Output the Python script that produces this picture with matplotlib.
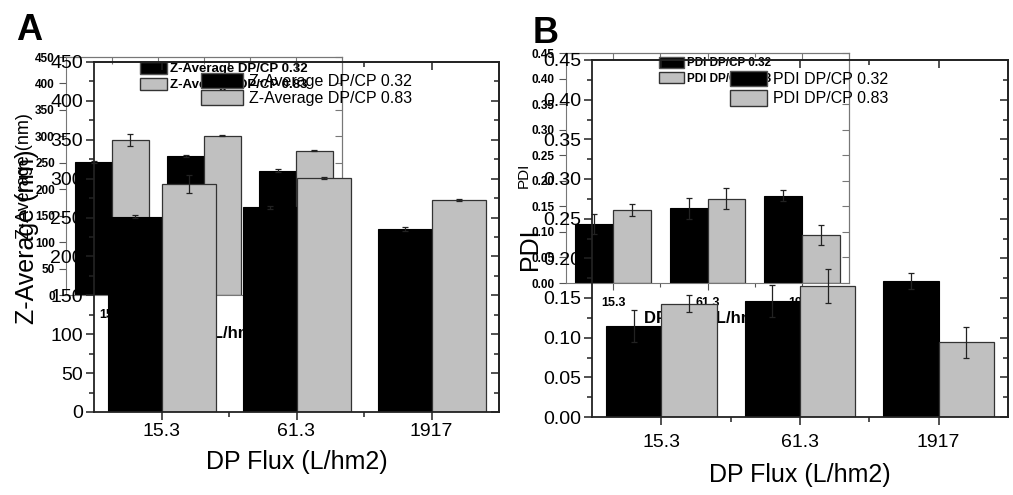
import matplotlib
matplotlib.use("Agg")
import matplotlib.pyplot as plt
import numpy as np
from matplotlib.patches import Patch
from matplotlib.ticker import MultipleLocator, FixedLocator, FormatStrFormatter

plt.rcParams['font.family'] = ['Liberation Sans', 'DejaVu Sans']

# data
flux_labels = ['15.3', '61.3', '1917']
z_low = [251, 263, 235]          # Z-Average DP/CP 0.32
z_low_err = [2, 2, 2.5]
z_high = [293, 301, 273]         # Z-Average DP/CP 0.83
z_high_err = [12, 1, 1.5]
pdi_low = [0.115, 0.146, 0.171]  # PDI DP/CP 0.32
pdi_low_err = [0.02, 0.02, 0.01]
pdi_high = [0.143, 0.165, 0.094] # PDI DP/CP 0.83
pdi_high_err = [0.011, 0.021, 0.02]

W, H = 1013, 495
fig = plt.figure(figsize=(W / 100, H / 100), dpi=100)


def box(l, t, r, b):
    return [l / W, 1 - b / H, (r - l) / W, (b - t) / H]


def bars(ax, low, low_err, high, high_err, cap):
    x = np.arange(len(flux_labels))
    ekw = dict(ecolor='#222222', elinewidth=0.9, capthick=0.9, capsize=cap)
    ax.bar(x - 0.2, low, 0.4, yerr=low_err, color='black', edgecolor='black',
           linewidth=0.8, error_kw=ekw)
    ax.bar(x + 0.2, high, 0.4, yerr=high_err, color='#c0c0c0', edgecolor='#333333',
           linewidth=0.9, error_kw=ekw)
    ax.set_xlim(-0.5, 2.5)
    ax.set_xticks(x)
    ax.set_xticklabels(flux_labels)
    ax.xaxis.set_minor_locator(FixedLocator([0.5, 1.5]))


def mirror(ax, ymaj, ymin, color, lw, length):
    top = ax.secondary_xaxis('top')
    top.set_xticks([0, 1, 2])
    top.xaxis.set_minor_locator(FixedLocator([0.5, 1.5]))
    top.tick_params(which='both', direction='in', labeltop=False, color=color, width=lw)
    top.tick_params(which='major', length=length)
    top.tick_params(which='minor', length=length * 0.6)
    top.spines['top'].set_color(color)
    top.spines['top'].set_linewidth(lw)
    right = ax.secondary_yaxis('right')
    right.yaxis.set_major_locator(MultipleLocator(ymaj))
    right.yaxis.set_minor_locator(MultipleLocator(ymin))
    right.tick_params(which='both', direction='in', labelright=False, color=color, width=lw)
    right.tick_params(which='major', length=length)
    right.tick_params(which='minor', length=length * 0.6)
    right.spines['right'].set_color(color)
    right.spines['right'].set_linewidth(lw)


def style_main(ax, ymaj, ymin):
    ax.set_facecolor('none')
    for s in ax.spines.values():
        s.set_color('#222222')
        s.set_linewidth(1.3)
    ax.yaxis.set_major_locator(MultipleLocator(ymaj))
    ax.yaxis.set_minor_locator(MultipleLocator(ymin))
    ax.tick_params(which='both', direction='out', color='#222222', width=1.1)
    ax.tick_params(which='major', length=6, labelsize=14, pad=2)
    ax.tick_params(which='minor', length=3.5)
    mirror(ax, ymaj, ymin, '#222222', 1.1, 6)


def style_small(ax, ymaj):
    ax.set_facecolor('none')
    for s in ax.spines.values():
        s.set_color('#777777')
        s.set_linewidth(0.8)
    ax.yaxis.set_major_locator(MultipleLocator(ymaj))
    ax.tick_params(which='both', direction='out', color='#555555', width=0.8)
    ax.tick_params(which='major', length=5, labelsize=8.5, pad=3)
    ax.tick_params(which='minor', length=3)
    mirror(ax, ymaj, ymaj, '#777777', 0.8, 5)


def legend(ax, labels, anchor, size, bold, hl, hh, pad, sp):
    handles = [Patch(facecolor='black', edgecolor='#555555', linewidth=1),
               Patch(facecolor='#c0c0c0', edgecolor='#333333', linewidth=1)]
    ax.legend(handles, labels, loc='upper left', bbox_to_anchor=anchor,
              bbox_transform=fig.transFigure, frameon=False, borderpad=0,
              borderaxespad=0, handlelength=hl, handleheight=hh, handletextpad=pad,
              labelspacing=sp, prop=dict(size=size, weight='bold' if bold else 'normal'))


# ---------------- panel A ----------------
axA2 = fig.add_axes(box(66, 57, 342, 295))
bars(axA2, z_low, z_low_err, z_high, z_high_err, 2)
axA2.set_ylim(0, 450)
style_small(axA2, 50)
axA2.set_ylabel('Z-Average (nm)', fontsize=13)
axA2.yaxis.set_label_coords(-0.12, 0.5)
axA2.set_xlabel('DP Flux (L/hm2)', fontsize=12, fontweight='bold')
axA2.xaxis.set_label_coords(0.5, -0.13)
axA2.tick_params(axis='x', pad=5, labelsize=9)
legend(axA2, ['Z-Average DP/CP 0.32', 'Z-Average DP/CP 0.83'],
       (140 / W, 1 - 62 / H), 9.5, True, 2.05, 1.0, 0.25, 0.2)

axA = fig.add_axes(box(94, 62, 499, 412))
bars(axA, z_low, z_low_err, z_high, z_high_err, 2.5)
axA.set_ylim(0, 450)
style_main(axA, 50, 25)
axA.set_ylabel('Z-Average (nm)', fontsize=18)
axA.yaxis.set_label_coords(-0.135, 0.5)
axA.set_xlabel('DP Flux (L/hm2)', fontsize=18)
axA.xaxis.set_label_coords(0.5, -0.11)
legend(axA, ['Z-Average DP/CP 0.32', 'Z-Average DP/CP 0.83'],
       (201 / W, 1 - 73 / H), 11.5, False, 2.6, 1.05, 0.4, 0.1)

# ---------------- panel B ----------------
axB2 = fig.add_axes(box(566, 53, 849, 283))
bars(axB2, pdi_low, pdi_low_err, pdi_high, pdi_high_err, 2)
axB2.set_ylim(0, 0.45)
style_small(axB2, 0.05)
axB2.yaxis.set_major_formatter(FormatStrFormatter('%.2f'))
axB2.set_ylabel('PDI', fontsize=11)
axB2.yaxis.set_label_coords(-0.125, 0.47)
axB2.set_xlabel('DP Flux (L/hm2)', fontsize=12, fontweight='bold')
axB2.xaxis.set_label_coords(0.5, -0.12)
axB2.tick_params(axis='x', pad=5, labelsize=9)
legend(axB2, ['PDI DP/CP 0.32', 'PDI DP/CP 0.83'],
       (659 / W, 1 - 57 / H), 8.5, True, 2.1, 1.0, 0.25, 0.25)

axB = fig.add_axes(box(592, 60, 1008, 417))
bars(axB, pdi_low, pdi_low_err, pdi_high, pdi_high_err, 2.5)
axB.set_ylim(0, 0.45)
style_main(axB, 0.05, 0.025)
axB.yaxis.set_major_formatter(FormatStrFormatter('%.2f'))
axB.set_ylabel('PDI', fontsize=18)
axB.yaxis.set_label_coords(-0.12, 0.47)
axB.set_xlabel('DP Flux (L/hm2)', fontsize=18)
axB.xaxis.set_label_coords(0.5, -0.13)
axB.tick_params(axis='x', pad=6)
legend(axB, ['PDI DP/CP 0.32', 'PDI DP/CP 0.83'],
       (730 / W, 1 - 71 / H), 11.5, False, 2.3, 1.1, 0.4, 0.2)

for lab in axA2.get_xticklabels() + axA2.get_yticklabels() + axB2.get_xticklabels() + axB2.get_yticklabels():
    lab.set_fontweight('bold')

fig.text(16 / W, 1 - 13 / H, 'A', fontsize=26, fontweight='bold', va='top', ha='left')
fig.text(533 / W, 1 - 16 / H, 'B', fontsize=26, fontweight='bold', va='top', ha='left')

fig.savefig('out.png', dpi=100)
